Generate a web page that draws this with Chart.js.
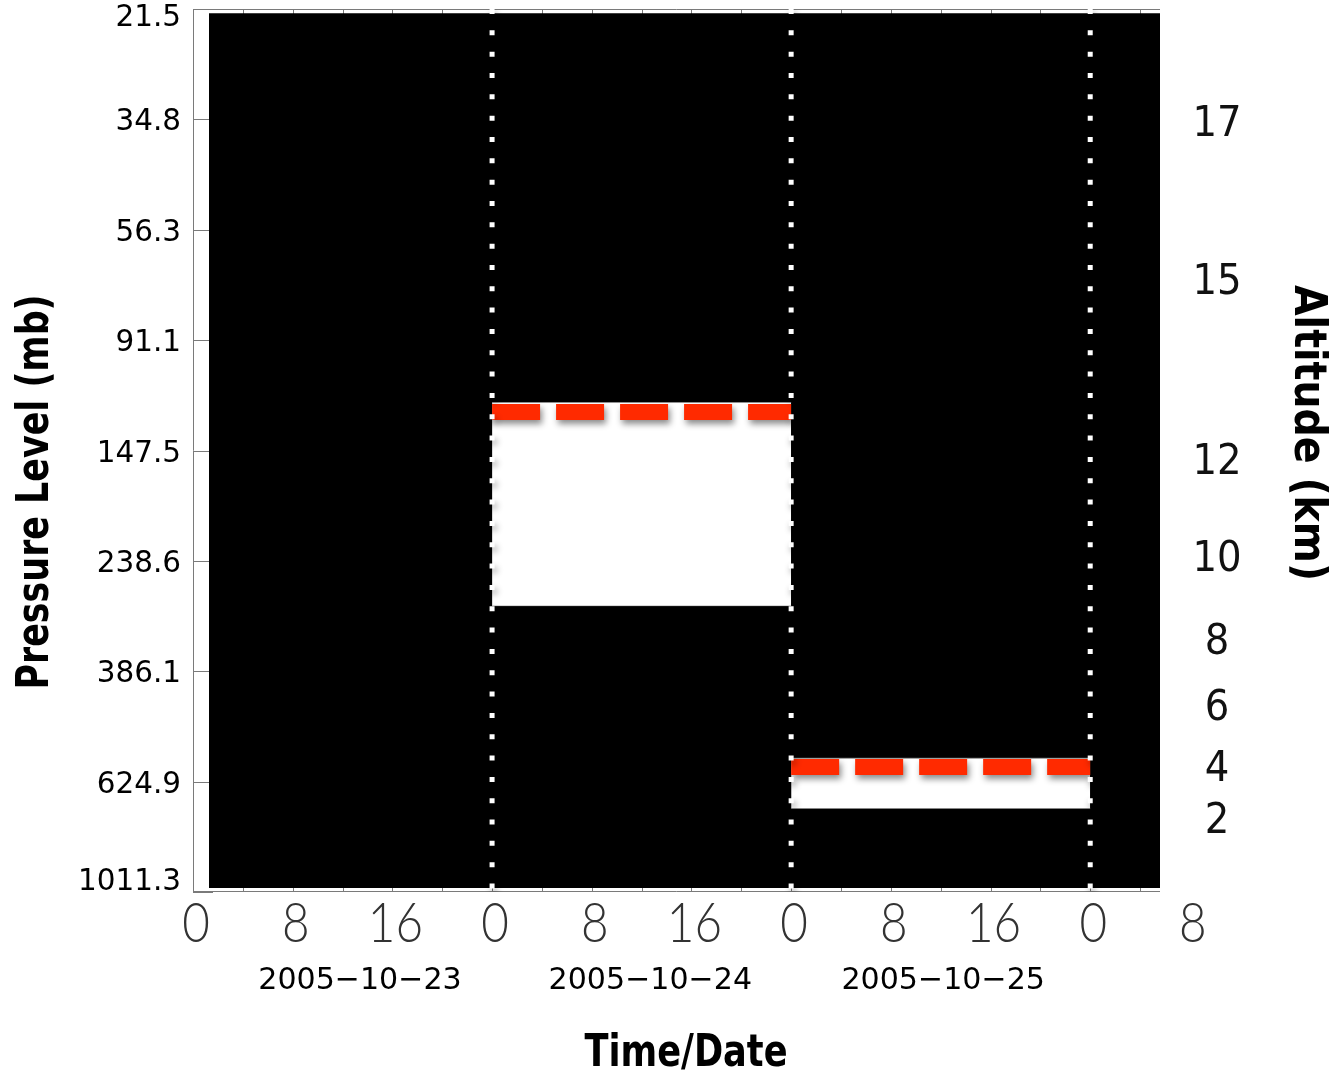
<!DOCTYPE html>
<html><head><meta charset="utf-8">
<script src="https://cdn.jsdelivr.net/npm/chart.js@4.4.1/dist/chart.umd.min.js"></script>
<style>html,body{margin:0;padding:0;background:#fff;} #wrap{width:1342px;height:1078px;position:relative;}</style>
</head><body><div id="wrap"><canvas id="c"></canvas></div>
<script>
// ---------------- data ----------------
const hourTickLabels = ['0','8','16','0','8','16','0','8','16','0','8'];
const hourTickValues = [0, 8, 16, 24, 32, 40, 48, 56, 64, 72, 80];
const minorTickHours = [0,4,8,12,16,20,24,28,32,36,40,44,48,52,56,60,64,68,72,76];
const dateLabels = ['2005\u221210\u221223','2005\u221210\u221224','2005\u221210\u221225'];
const dateLabelHours = [13.4, 36.7, 60.2];
const dayBoundaries = [24, 48, 72];
const pressureTicks = [21.5, 34.8, 56.3, 91.1, 147.5, 238.6, 386.1, 624.9, 1011.3];
const pressureTickLabels = ['21.5','34.8','56.3','91.1','147.5','238.6','386.1','624.9','1011.3'];
const altitudeLabels = ['17','15','12','10','8','6','4','2'];
const altitudePressure = [35.2, 70.1, 153.7, 234.6, 336.9, 449.4, 586.5, 735.5];
const layerStartHour = [24, 48];
const layerEndHour = [48, 72];
const layerTopPressure = [119.6, 564.4];
const layerBottomPressure = [290.1, 702];
const layerLinePressure = [124.7, 586.3];
const noDataStartHour = 1.28, noDataEndHour = 77.6;
const noDataTopPressure = 21.9, noDataBottomPressure = 994;
const timeMin = 0, timeMax = 77.6;

// ---------------- datasets ----------------
const datasets = [];
dayBoundaries.forEach(h => datasets.push({
  data: [{x: h, y: pressureTicks[0]}, {x: h, y: pressureTicks[pressureTicks.length - 1]}],
  borderColor: '#ffffff', borderWidth: 5, borderDash: [5, 16.33], borderCapStyle: 'butt',
  pointRadius: 0, fill: false, shadow: true
}));
layerLinePressure.forEach((p, i) => datasets.push({
  data: [{x: layerStartHour[i], y: p}, {x: layerEndHour[i], y: p}],
  borderColor: '#ff2a00', borderWidth: 16, borderDash: [48, 16], borderCapStyle: 'butt',
  pointRadius: 0, fill: false, shadow: true
}));
layerTopPressure.forEach((p, i) => {
  datasets.push({
    data: [{x: layerStartHour[i], y: p}, {x: layerEndHour[i], y: p}],
    borderColor: 'rgba(150,150,150,0.8)', borderWidth: 1, backgroundColor: '#ffffff',
    pointRadius: 0, fill: '+1'
  });
  datasets.push({
    data: [{x: layerStartHour[i], y: layerBottomPressure[i]}, {x: layerEndHour[i], y: layerBottomPressure[i]}],
    borderColor: 'rgba(150,150,150,0.8)', borderWidth: 1, pointRadius: 0, fill: false
  });
});
datasets.push({
  data: [{x: noDataStartHour, y: noDataTopPressure}, {x: noDataEndHour, y: noDataTopPressure}],
  borderColor: 'rgba(0,0,0,0)', borderWidth: 1, backgroundColor: '#000000', pointRadius: 0, fill: '+1'
});
datasets.push({
  data: [{x: noDataStartHour, y: noDataBottomPressure}, {x: noDataEndHour, y: noDataBottomPressure}],
  borderColor: 'rgba(0,0,0,0)', borderWidth: 1, pointRadius: 0, fill: false
});

// ---------------- helpers ----------------
function txt(ctx, s, x, y, font, o) {
  o = o || {};
  ctx.save();
  ctx.translate(x, y);
  if (o.rot) ctx.rotate(o.rot);
  ctx.font = font;
  let sx = o.sx || 1;
  if (o.width) sx = o.width / ctx.measureText(s).width;
  ctx.scale(sx, 1);
  ctx.textAlign = o.align || 'center';
  ctx.textBaseline = o.baseline || 'middle';
  ctx.fillStyle = o.color || '#000';
  ctx.fillText(s, 0, 0);
  ctx.restore();
}

const shadowPlugin = {
  id: 'shadowPlugin',
  beforeDatasetDraw(chart, args) {
    if (chart.data.datasets[args.index].shadow) {
      const c = chart.ctx; c.save();
      c.shadowColor = 'rgba(0,0,0,0.45)'; c.shadowBlur = 6; c.shadowOffsetX = 2; c.shadowOffsetY = 4;
    }
  },
  afterDatasetDraw(chart, args) {
    if (chart.data.datasets[args.index].shadow) chart.ctx.restore();
  }
};

const framePlugin = {
  id: 'framePlugin',
  beforeDatasetsDraw(chart) {
    const c = chart.ctx, a = chart.chartArea, xs = chart.scales.x, ys = chart.scales.y;
    c.save();
    c.strokeStyle = '#7a7a7a'; c.lineWidth = 1;
    c.beginPath();
    c.moveTo(a.left + 0.5, a.top + 0.5); c.lineTo(a.right, a.top + 0.5);
    c.moveTo(a.left + 0.5, a.bottom - 0.5); c.lineTo(a.right, a.bottom - 0.5);
    c.moveTo(a.left + 0.5, a.top); c.lineTo(a.left + 0.5, a.bottom);
    minorTickHours.forEach(h => {
      const px = Math.round(xs.getPixelForValue(h)) + 0.5;
      c.moveTo(px, a.top); c.lineTo(px, a.top + 8);
      c.moveTo(px, a.bottom); c.lineTo(px, a.bottom - 8);
    });
    pressureTicks.forEach(p => {
      const py = Math.round(ys.getPixelForValue(p)) + 0.5;
      c.moveTo(a.left, py); c.lineTo(a.left + 20, py);
    });
    c.stroke();
    c.restore();
  }
};

const labelPlugin = {
  id: 'labelPlugin',
  afterDraw(chart) {
    const c = chart.ctx, a = chart.chartArea, xs = chart.scales.x, ys = chart.scales.y;
    // left pressure labels
    pressureTicks.forEach((p, i) => {
      let py = ys.getPixelForValue(p) + 3;
      py = Math.min(Math.max(py, a.top + 9), a.bottom - 10);
      txt(c, pressureTickLabels[i], 181, py, '31px "DejaVu Sans"', {align: 'right', sx: 0.95});
    });
    // right altitude labels
    altitudePressure.forEach((p, i) => {
      txt(c, altitudeLabels[i], 1217, ys.getPixelForValue(p) + 3.5, '42px "DejaVu Sans"', {sx: 0.92, color: '#111'});
    });
    // bottom hour labels
    hourTickValues.forEach((h, i) => {
      txt(c, hourTickLabels[i], xs.getPixelForValue(h) + 3, 924, '300 56px Lato', {sx: 0.85, color: '#333'});
    });
    // date labels
    dateLabels.forEach((s, i) => {
      txt(c, s, xs.getPixelForValue(dateLabelHours[i]), 981, '31px "DejaVu Sans"', {sx: 0.97});
    });
    // axis titles
    txt(c, 'Time/Date', 686, 1055, 'bold 44px "DejaVu Sans"', {width: 203});
    txt(c, 'Pressure Level (mb)', 36, 492, 'bold 45px "DejaVu Sans"', {width: 395, rot: -Math.PI / 2});
    txt(c, 'Altitude (km)', 1307, 433, 'bold 45px "DejaVu Sans"', {width: 296, rot: Math.PI / 2});
  }
};

new Chart(document.getElementById('c'), {
  type: 'line',
  data: {datasets: datasets},
  options: {
    responsive: true, maintainAspectRatio: false, animation: false, devicePixelRatio: 1,
    layout: {padding: {left: 193, right: 182, top: 9, bottom: 186}},
    plugins: {legend: {display: false}, tooltip: {enabled: false}},
    elements: {line: {tension: 0}},
    scales: {
      x: {type: 'linear', min: timeMin, max: timeMax, display: false},
      y: {
        type: 'logarithmic', reverse: true, display: false,
        min: pressureTicks[0], max: pressureTicks[pressureTicks.length - 1],
        afterBuildTicks(scale) {
          scale.ticks = pressureTicks.map(v => ({value: v}));
          scale.min = pressureTicks[0]; scale.max = pressureTicks[pressureTicks.length - 1];
        }
      }
    }
  },
  plugins: [shadowPlugin, framePlugin, labelPlugin]
});
</script>
</body></html>
